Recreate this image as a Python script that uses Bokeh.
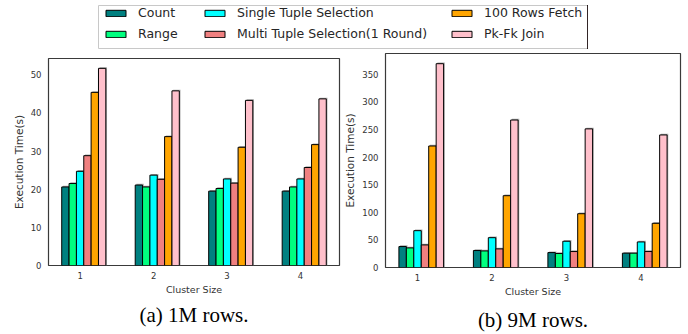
from bokeh.plotting import figure
from bokeh.models import Legend, LegendItem, Title, FixedTicker, Range1d
from bokeh.layouts import column, row
from bokeh.embed import file_html
from bokeh.resources import INLINE

# ---------------- data ----------------
clusters = [1, 2, 3, 4]
series = ["Count", "Range", "Single Tuple Selection",
          "Multi Tuple Selection(1 Round)", "100 Rows Fetch", "Pk-Fk Join"]
colors = ["#008080", "#00ff7f", "#00ffff", "#f08080", "#ffa500", "#ffc0cb"]

# (a) 1M rows
a_count = [20.6, 21.1, 19.5, 19.5]
a_range = [21.5, 20.6, 20.2, 20.6]
a_single = [24.7, 23.7, 22.7, 22.7]
a_multi = [28.8, 22.6, 21.6, 25.7]
a_fetch = [45.4, 33.8, 31.0, 31.7]
a_join = [51.7, 45.8, 43.3, 43.7]
a_yticks = [0, 10, 20, 30, 40, 50]

# (b) 9M rows
b_count = [37.9, 30.7, 27.0, 25.9]
b_range = [35.5, 30.0, 25.3, 25.9]
b_single = [66.7, 54.0, 47.5, 46.3]
b_multi = [40.9, 33.7, 28.9, 28.9]
b_fetch = [220.0, 130.0, 97.4, 80.0]
b_join = [369.0, 267.0, 251.0, 240.0]
b_yticks = [0, 50, 100, 150, 200, 250, 300, 350]

BAR_W = 0.1
FONT = "DejaVu Sans"
TXT = "#333333"


def make_chart(values, yticks, caption, width, height, mb_left, mb_right,
               mb_top, mb_bottom, cap_offset, cap_standoff, cap_pad_top):
    xs_all = [c + (k - 2) * BAR_W for k in range(len(values)) for c in clusters]
    x0 = min(xs_all) - BAR_W / 2
    x1 = max(xs_all) + BAR_W / 2
    pad = 0.05 * (x1 - x0)
    ymax = 1.05 * max(max(v) for v in values)
    p = figure(width=width, height=height, output_backend="svg",
               toolbar_location=None,
               x_range=Range1d(x0 - pad, x1 + pad), y_range=Range1d(0, ymax),
               min_border_left=mb_left, min_border_right=mb_right,
               min_border_top=mb_top, min_border_bottom=mb_bottom)
    p.xgrid.visible = False
    p.ygrid.visible = False
    p.outline_line_color = "#3a3a3a"
    p.outline_line_width = 1.2
    p.background_fill_color = "white"
    p.border_fill_color = "white"

    frame_w = width - mb_left - mb_right
    frame_h = height - mb_top - mb_bottom
    dx = (x1 + 2 * pad - x0) / frame_w * 1.2
    dy = ymax / frame_h * 1.2

    for k, (vals, col) in enumerate(zip(values, colors)):
        xs = [c + (k - 2) * BAR_W for c in clusters]
        p.vbar(x=[x + dx for x in xs], top=[v + dy for v in vals],
               width=BAR_W, bottom=0, fill_color="#8a8a8a", fill_alpha=0.7,
               line_color=None)
        p.vbar(x=xs, top=vals, width=BAR_W, bottom=0, fill_color=col,
               line_color="black", line_width=1)

    for ax in (p.xaxis[0], p.yaxis[0]):
        ax.axis_line_color = None
        ax.major_tick_line_color = None
        ax.minor_tick_line_color = None
        ax.major_tick_out = 0
        ax.major_tick_in = 0
        ax.major_label_text_font = FONT
        ax.major_label_text_font_size = "8.5px"
        ax.major_label_text_color = TXT
        ax.axis_label_text_font = FONT
        ax.axis_label_text_font_style = "normal"
        ax.axis_label_text_color = TXT
    p.xaxis.ticker = FixedTicker(ticks=clusters)
    p.yaxis.ticker = FixedTicker(ticks=yticks)
    p.xaxis.axis_label = "Cluster Size"
    p.yaxis.axis_label = "Execution Time(s)"
    p.xaxis.axis_label_text_font_size = "9.5px"
    p.yaxis.axis_label_text_font_size = "10.5px"
    p.xaxis.major_label_standoff = 6
    p.xaxis.axis_label_standoff = 2
    p.yaxis.major_label_standoff = 7
    p.yaxis.axis_label_standoff = 3

    p.add_layout(Title(text=caption, align="center", offset=cap_offset,
                       standoff=cap_standoff,
                       padding=dict(left=0, right=0, top=cap_pad_top, bottom=0),
                       text_font="Liberation Serif", text_font_size="21px",
                       text_font_style="normal", text_color="black"), "below")
    return p


fa = make_chart([a_count, a_range, a_single, a_multi, a_fetch, a_join],
                a_yticks, "(a) 1M rows.", 341, 282, 48, 2, 6, 69, -16, 7, 0)
fb = make_chart([b_count, b_range, b_single, b_multi, b_fetch, b_join],
                b_yticks, "(b) 9M rows.", 347, 282, 43, 8, 1, 66, -21, 5, 4)

# ---------------- legend strip ----------------
# the strip's frame is the legend box; the bars drawn here only feed the
# legend glyphs and sit outside the strip's visible x range
lf = figure(width=688, height=52, output_backend="svg", toolbar_location=None,
            min_border_left=98, min_border_right=101, min_border_top=5,
            min_border_bottom=4, x_range=Range1d(-2, -1), y_range=Range1d(0, 1))
lf.axis.visible = False
lf.grid.visible = False
lf.outline_line_color = "#c8c8c8"
lf.outline_line_width = 1

a_values = [a_count, a_range, a_single, a_multi, a_fetch, a_join]
renderers = []
for k, (vals, col) in enumerate(zip(a_values, colors)):
    r = lf.vbar(x=clusters, top=vals, width=BAR_W, fill_color=col,
                line_color="black", line_width=1)
    renderers.append(r)

col_x = [5, 104, 351]
for j in range(3):
    its = [LegendItem(label=series[2 * j + i], renderers=[renderers[2 * j + i]])
           for i in range(2)]
    lg = Legend(items=its, orientation="vertical", location=(col_x[j], 7),
                glyph_width=25, glyph_height=8, label_height=13,
                label_standoff=10, spacing=6, padding=0, margin=0,
                label_text_font=FONT, label_text_font_size="12.5px",
                label_text_color="#262626", label_text_baseline="middle",
                border_line_color=None, background_fill_alpha=0)
    lf.add_layout(lg)

layout = column(lf, row(column(fa), column(fb)))
open("out.html", "w").write(file_html(layout, INLINE))
